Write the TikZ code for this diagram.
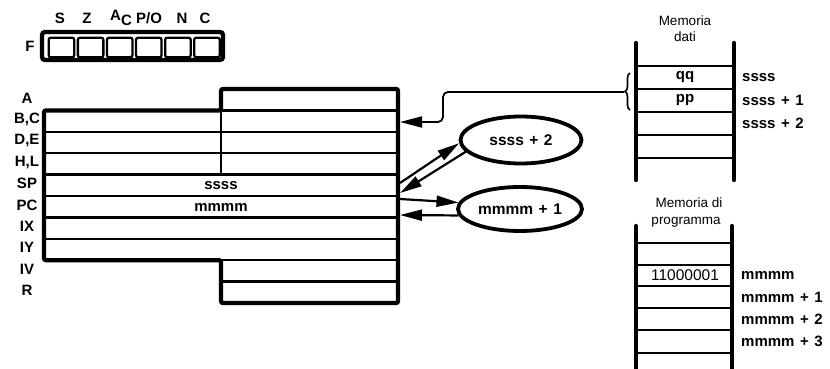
\documentclass[tikz,border=0pt]{standalone}
\usepackage{fontspec}
\setmainfont{Liberation Sans}
\usetikzlibrary{shapes.geometric,arrows.meta,decorations.pathreplacing}
\newcommand{\widesp}{\spaceskip=5.5pt\relax}
\begin{document}
\begin{tikzpicture}[x=1pt,y=-1pt,
 thickline/.style={line width=4.3pt},
 thinline/.style={line width=2.3pt},
 lab/.style={font=\bfseries\fontsize{15}{15}\selectfont\widesp, inner sep=0pt},
 memtxt/.style={font=\fontsize{13.5}{13.5}\selectfont, inner sep=0pt},
 oval/.style={ellipse, draw, line width=3.8pt, inner sep=0pt, font=\bfseries\fontsize{15.5}{15.5}\selectfont\widesp},
 arr/.style={line width=2.2pt, -{Triangle[length=22pt,width=11pt]}},
 flagbox/.style={draw, line width=2.3pt, rounded corners=2pt, minimum width=25.5pt, minimum height=19.5pt, inner sep=0pt},
]
\useasboundingbox (0,0) rectangle (830,369);

% ---- flags
\draw[thickline, rounded corners=3pt] (42,32) rectangle (223,60);
\foreach \i in {0,...,5} \node[flagbox] (fl\i) at ({61.5+29.1*\i},47.5) {};
\node[lab] (fF) at (30,46) {F};
\node[lab] (fS) at (60,18) {S};
\node[lab] (fZ) at (87,18) {Z};
\node[lab] (fA) at (121,18) {A\raisebox{-4.5pt}{C}};
\node[lab] (fP) at (149,18) {P/O};
\node[lab] (fN) at (182,18) {N};
\node[lab] (fC) at (205,18) {C};

% ---- register file
\draw[thickline, rounded corners=2pt] (221,89) -- (398,89) -- (398,303) -- (221,303) -- (221,260.2) -- (44,260.2) -- (44,110.4) -- (221,110.4) -- cycle;
\draw[line width=2.8pt] (221,110.4) -- (221,174.6);
\foreach \k in {2,...,7} \draw[thinline] (44,{89+21.4*\k}) -- (398,{89+21.4*\k});
\foreach \k in {1,8,9} \draw[thinline] (221,{89+21.4*\k}) -- (398,{89+21.4*\k});
\foreach \t [count=\k from 0] in {A,{B,C},{D,E},{H,L},SP,PC,IX,IY,IV,R}
  \node[lab] (reg\k) at (27,{89+21.4*\k+9}) {\t};
\node[lab] (vsp) at (221,185.5) {ssss};
\node[lab] (vpc) at (221,207) {mmmm};

% ---- ellipses
\node[oval, minimum width=121pt, minimum height=47pt] (e1) at (521,140) {ssss + 2};
\node[oval, minimum width=124pt, minimum height=44pt] (e2) at (520,209) {mmmm + 1};

\coordinate (r1) at (400,183);
\coordinate (r2) at (400,193);
\coordinate (r3) at (400,199);
\coordinate (r4) at (400,215);
\coordinate (rbc) at (400,122);

\draw[arr] (r1) -- (e1.183);
\draw[arr] (e1.192) -- (r2);
\draw[arr] (r3) -- (e2.174);
\draw[arr] (e2.186) -- (r4);

% ---- data memory
\node[memtxt] (md1) at (685,21) {Memoria};
\node[memtxt] (md2) at (685,37) {dati};
\draw[thickline, line cap=round] (636,43) -- (636,180);
\draw[thickline, line cap=round] (734,43) -- (734,180);
\foreach \y in {66,89,112,135,158} \draw[thinline] (636,\y) -- (734,\y);
\node[lab] (qq) at (685,77.5) {qq};
\node[lab] (pp) at (685,100.5) {pp};
\node[lab, anchor=west] (a0) at (742,77.5) {ssss};
\node[lab, anchor=west] (a1) at (742,100.5) {ssss + 1};
\node[lab, anchor=west] (a2) at (742,123.5) {ssss + 2};
\draw[line width=1.6pt, decorate, decoration={brace, amplitude=5pt}] (630,110) -- (630,73);
\coordinate (bt) at (624,92);
\draw[arr, line width=1.8pt, rounded corners=5pt] (bt) -- (443,92) -- (443,122) -- (rbc);

% ---- program memory
\node[memtxt] (mp1) at (689,203) {Memoria di};
\node[memtxt] (mp2) at (686,222) {programma};
\draw[thickline, line cap=round] (636,226) -- (636,375);
\draw[thickline, line cap=round] (732,226) -- (732,375);
\foreach \y in {243,265,286,308,330,353} \draw[thinline] (636,\y) -- (732,\y);
\node[font=\fontsize{15.5}{15.5}\selectfont, inner sep=0pt] (op) at (685,275.5) {11000001};
\node[lab, anchor=west] (b0) at (741,275.5) {mmmm};
\node[lab, anchor=west] (b1) at (741,297) {mmmm + 1};
\node[lab, anchor=west] (b2) at (741,319) {mmmm + 2};
\node[lab, anchor=west] (b3) at (741,341.5) {mmmm + 3};
\end{tikzpicture}
\end{document}
